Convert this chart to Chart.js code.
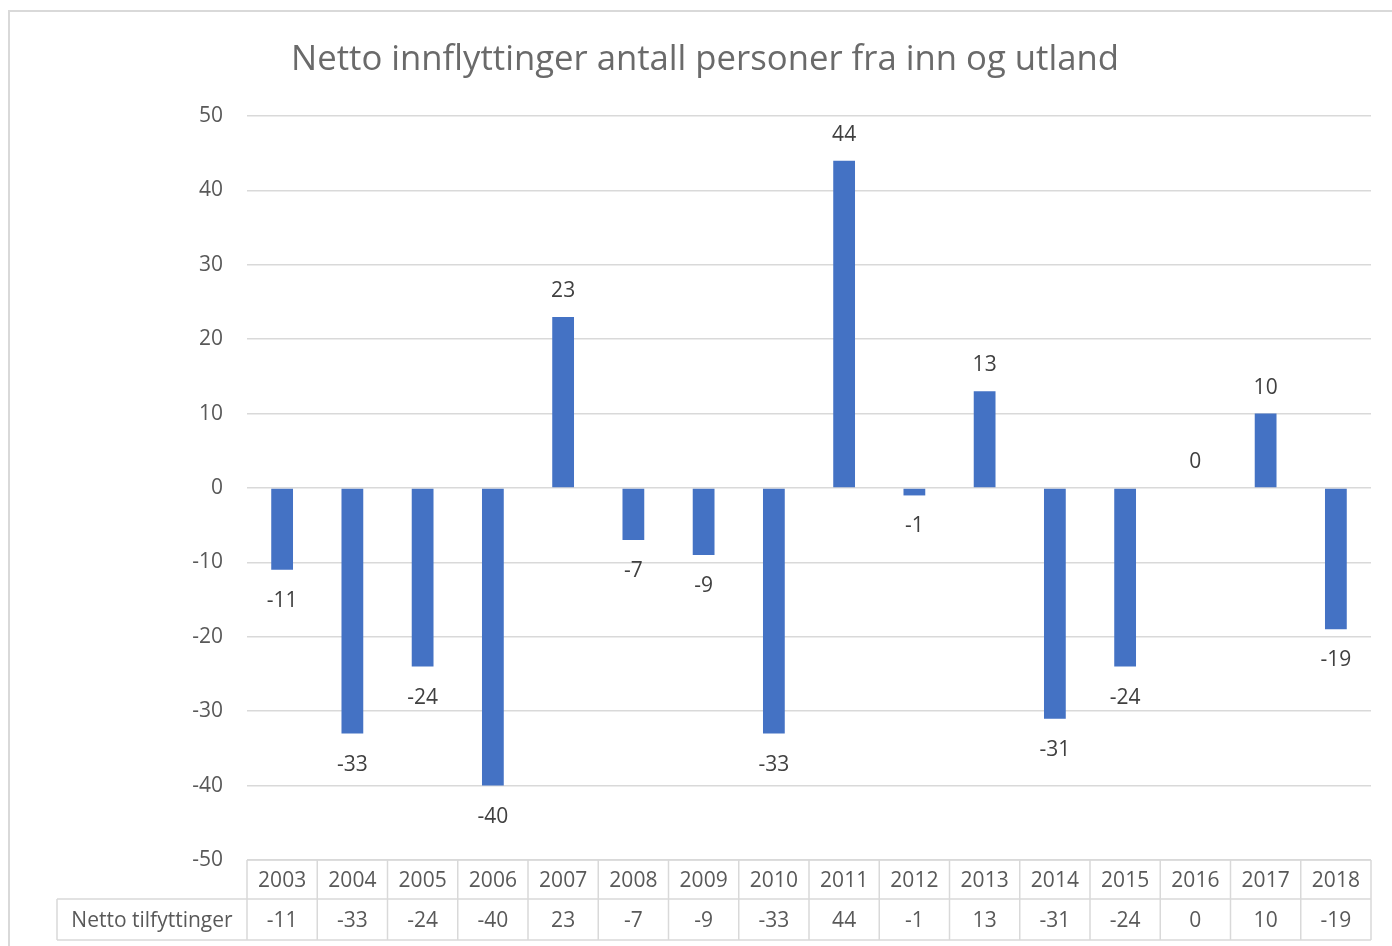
<!DOCTYPE html>
<html>
<head>
<meta charset="utf-8">
<script src="https://cdn.jsdelivr.net/npm/chart.js@4/dist/chart.umd.min.js"></script>
<style>
  html, body { margin: 0; padding: 0; background: #fff; }
  canvas { display: block; }
</style>
</head>
<body>
<canvas id="netChart" width="1392" height="946"></canvas>
<script>
var chartTitle = 'Netto innflyttinger antall personer fra inn og utland'
var seriesName = 'Netto tilfyttinger'
var years = ['2003', '2004', '2005', '2006', '2007', '2008', '2009', '2010',
             '2011', '2012', '2013', '2014', '2015', '2016', '2017', '2018']
var netMoves = [-11, -33, -24, -40, 23, -7, -9, -33, 44, -1, 13, -31, -24, 0, 10, -19]
var yTicks = { min: -50, max: 50, step: 10 }

var FONT = '"Open Sans", Lato, sans-serif'
var GRID = '#d9d9d9'

// draws the frame, title, value labels and the data table under the plot
var excelBits = {
  id: 'excelBits',
  afterDraw: function(chart) {
    var ctx = chart.ctx
    var area = chart.chartArea
    var xs = chart.scales.x
    var ys = chart.scales.y
    var colW = (area.right - area.left) / years.length
    ctx.save()

    // outer frame
    ctx.strokeStyle = GRID
    ctx.lineWidth = 2
    ctx.strokeRect(9, 11, 1420, 1000)

    // title, sized to the width it has in the original
    ctx.fillStyle = '#6a6a6a'
    ctx.font = '32px ' + FONT
    var tw = ctx.measureText(chartTitle).width
    ctx.font = (32 * 829 / tw).toFixed(1) + 'px ' + FONT
    ctx.textAlign = 'center'
    ctx.textBaseline = 'middle'
    ctx.fillText(chartTitle, 705, 60)

    // value labels
    ctx.fillStyle = '#404040'
    ctx.font = '21px ' + FONT
    netMoves.forEach(function(v, i) {
      var x = xs.getPixelForValue(i)
      var y = ys.getPixelForValue(v)
      ctx.fillText(String(v), x, v >= 0 ? y - 26 : y + 31)
    })

    // data table
    var top = area.bottom
    var mid = top + 39
    var bot = mid + 41
    var leftCell = 57
    ctx.strokeStyle = GRID
    ctx.lineWidth = 1.5
    ctx.beginPath()
    ctx.moveTo(area.left, top); ctx.lineTo(area.right, top)
    ctx.moveTo(leftCell, mid); ctx.lineTo(area.right, mid)
    ctx.moveTo(leftCell, bot); ctx.lineTo(area.right, bot)
    ctx.moveTo(leftCell, mid); ctx.lineTo(leftCell, bot)
    for (var i = 0; i <= years.length; i++) {
      var lx = area.left + i * colW
      ctx.moveTo(lx, top); ctx.lineTo(lx, bot)
    }
    ctx.stroke()

    ctx.fillStyle = '#595959'
    ctx.font = '21px ' + FONT
    years.forEach(function(yr, i) {
      var cx = xs.getPixelForValue(i)
      ctx.fillText(yr, cx, (top + mid) / 2 + 2)
      ctx.fillText(String(netMoves[i]), cx, (mid + bot) / 2 + 2)
    })
    ctx.fillText(seriesName, (leftCell + area.left) / 2, (mid + bot) / 2 + 2)
    ctx.restore()
  }
}

var chartConfig = {
  type: 'bar',
  data: {
    labels: years,
    datasets: [{
      label: seriesName,
      data: netMoves,
      backgroundColor: '#4472c4',
      categoryPercentage: 1,
      barPercentage: 0.31
    }]
  },
  options: {
    responsive: false,
    animation: false,
    devicePixelRatio: 1,
    layout: { padding: { left: 0, top: 116, right: 21, bottom: 86 } },
    plugins: {
      legend: { display: false },
      title: { display: false },
      tooltip: { enabled: false }
    },
    scales: {
      x: { display: false },
      y: {
        min: yTicks.min,
        max: yTicks.max,
        afterFit: function(scale) { scale.width = 247 },
        border: { display: false },
        grid: { color: GRID, lineWidth: 1.5, drawTicks: false, tickLength: 0 },
        ticks: {
          stepSize: yTicks.step,
          padding: 24,
          color: '#595959',
          font: { family: FONT, size: 21 }
        }
      }
    }
  },
  plugins: [excelBits]
}

var netChart = new Chart(document.getElementById('netChart'), chartConfig)
</script>
</body>
</html>
